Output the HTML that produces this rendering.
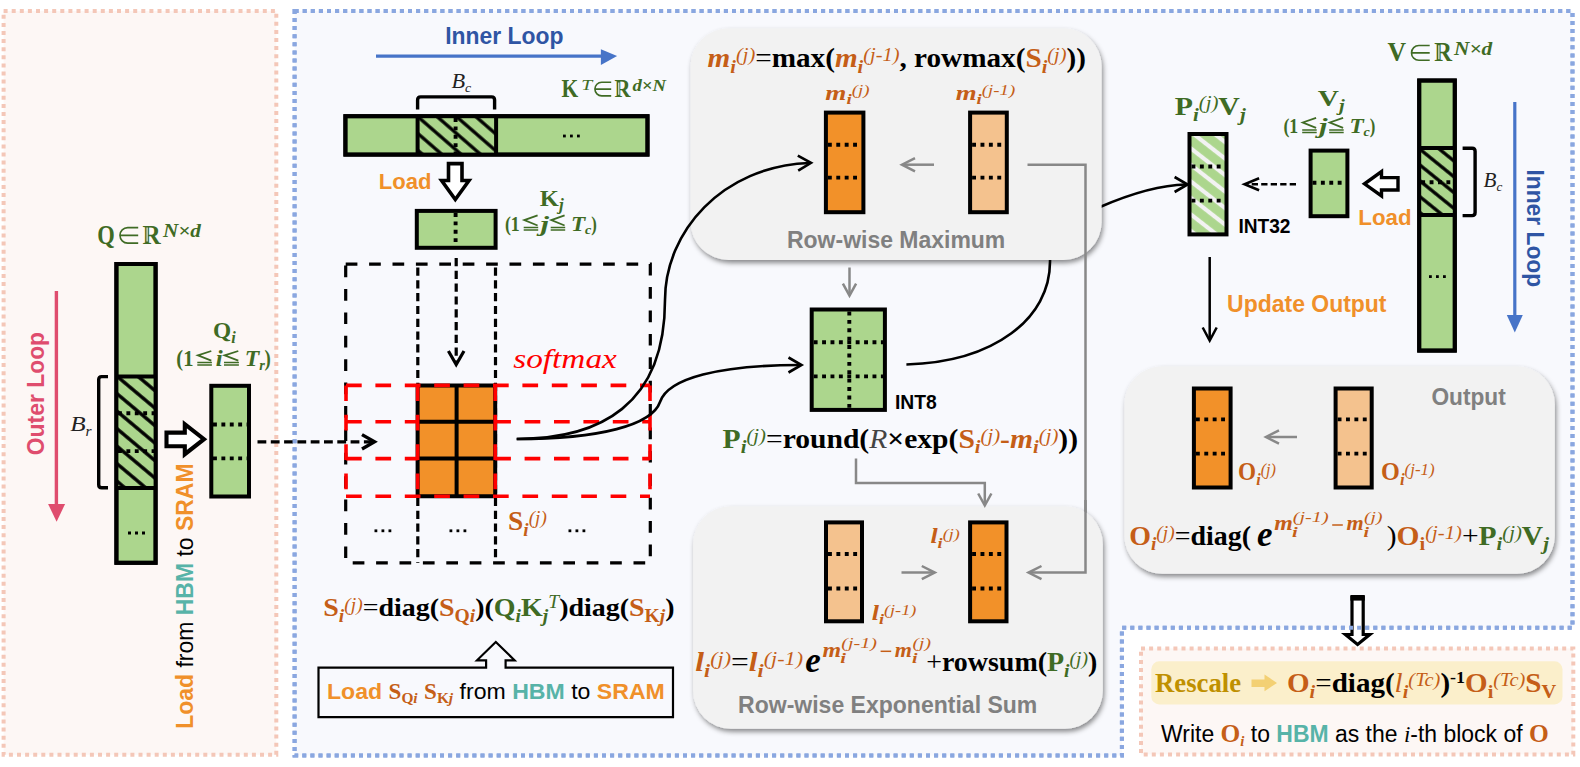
<!DOCTYPE html><html><head><meta charset="utf-8"><style>html,body{margin:0;padding:0;background:#fff;overflow:hidden}svg{display:block}.s{font-family:"Liberation Sans",sans-serif;font-weight:bold}.n{font-family:"Liberation Sans",sans-serif;font-weight:normal}.r{font-family:"Liberation Serif",serif}</style></head><body>
<svg width="1580" height="767" viewBox="0 0 1580 767">
<defs><filter id="sh" x="-5%" y="-5%" width="112%" height="115%"><feDropShadow dx="1.5" dy="3" stdDeviation="2.4" flood-color="#000" flood-opacity="0.45"/></filter></defs>
<rect width="1580" height="767" fill="#fff"/>
<rect x="3.6" y="11" width="272.7" height="743.7" fill="#FDF7F5" stroke="#F4C7B8" stroke-width="4" stroke-dasharray="4 4.1"/>
<path d="M294.6,11 H1572.5 V627.7 H1121.9 V755.5 H294.6 Z" fill="#F8F9FD" stroke="#8AA7E0" stroke-width="4" stroke-dasharray="4 4.1"/>
<rect x="1141" y="648.4" width="432.3" height="106" fill="#FDF7F5" stroke="#F4C7B8" stroke-width="4" stroke-dasharray="4 4.1"/>
<defs><pattern id="hq" patternUnits="userSpaceOnUse" width="40" height="13.4" patternTransform="translate(118.6,377.6) rotate(40)"><rect x="0" y="0" width="40" height="13.4" fill="#ACD68D"/><rect x="0" y="0" width="40" height="1.7" fill="#000"/><rect x="0" y="11.700000000000001" width="40" height="1.7" fill="#000"/></pattern></defs>
<rect x="116.4" y="264.0" width="39.2" height="298.8" fill="#ACD68D" stroke="#000" stroke-width="4" />
<rect x="116.4" y="376.4" width="39.2" height="111.6" fill="url(#hq)"/>
<rect x="116.4" y="264.0" width="39.2" height="298.8" fill="none" stroke="#000" stroke-width="4" />
<line x1="116.4" y1="376.4" x2="155.6" y2="376.4" stroke="#000" stroke-width="4" />
<line x1="116.4" y1="488.0" x2="155.6" y2="488.0" stroke="#000" stroke-width="4" />
<line x1="118.0" y1="413.3" x2="154.0" y2="413.3" stroke="#000" stroke-width="3.9" stroke-dasharray="3.9 4.5"/>
<line x1="118.0" y1="451.1" x2="154.0" y2="451.1" stroke="#000" stroke-width="3.9" stroke-dasharray="3.9 4.5"/>
<rect x="128.0" y="531.5" width="3" height="3" fill="#000"/>
<rect x="135.0" y="531.5" width="3" height="3" fill="#000"/>
<rect x="142.0" y="531.5" width="3" height="3" fill="#000"/>
<path d="M108,376.6 H101.7 Q98.7,376.6 98.7,379.6 V484.8 Q98.7,487.8 101.7,487.8 H108" fill="none" stroke="#000" stroke-width="3.4"/>
<text x="70.2" y="431.4" class="r" textLength="21.4" lengthAdjust="spacingAndGlyphs"><tspan y="431.4" font-size="22.0" fill="#222" font-weight="normal" font-style="italic">B</tspan><tspan y="435.8" font-size="13.6" fill="#222" font-weight="normal" font-style="italic">r</tspan></text>
<line x1="56.4" y1="291.0" x2="56.4" y2="506.0" stroke="#DF4D6E" stroke-width="3.4" />
<path d="M48.1,504 L65.1,504 L56.6,521.7 Z" fill="#DF4D6E"/>
<text transform="translate(43.7,455.2) rotate(-90)" class="s" font-size="24" fill="#DF4D6E" textLength="123.3" lengthAdjust="spacingAndGlyphs">Outer Loop</text>
<text x="97.2" y="243.5" class="r" font-size="27.5" fill="#3F6B24" textLength="17.5" lengthAdjust="spacingAndGlyphs" font-weight="bold">Q</text>
<path d="M138.2,227.6 H127.7 A7.7,7.7 0 0 0 127.7,243.1 H138.2 M120.0,235.4 H138.2" fill="none" stroke="#3F6B24" stroke-width="1.6"/>
<text x="142.4" y="243.5" class="r" font-size="27.3" fill="#3F6B24" textLength="18.2" lengthAdjust="spacingAndGlyphs" font-weight="bold">R</text>
<line x1="147.1" y1="227.6" x2="147.1" y2="241.5" stroke="#FDF7F5" stroke-width="1.1"/>
<text x="162.9" y="237.0" class="r" font-size="18.5" fill="#3F6B24" textLength="38.0" lengthAdjust="spacingAndGlyphs" font-weight="bold" font-style="italic">N×d</text>
<path d="M166.5,432.6 H184.8 V424.2 L204,439.2 L184.8,454.2 V446.2 H166.5 Z" fill="#fff" stroke="#000" stroke-width="4.1" stroke-linejoin="miter"/>
<rect x="211.3" y="385.8" width="37.7" height="110.7" fill="#ACD68D" stroke="#000" stroke-width="4" />
<line x1="213.0" y1="424.5" x2="247.5" y2="424.5" stroke="#000" stroke-width="3.9" stroke-dasharray="3.9 4.5"/>
<line x1="213.0" y1="458.4" x2="247.5" y2="458.4" stroke="#000" stroke-width="3.9" stroke-dasharray="3.9 4.5"/>
<text x="213.0" y="337.7" class="r" textLength="22.7" lengthAdjust="spacingAndGlyphs"><tspan y="337.7" font-size="24.0" fill="#3F6B24" font-weight="bold" font-style="normal">Q</tspan><tspan y="342.7" font-size="16.8" fill="#3F6B24" font-weight="bold" font-style="italic">i</tspan></text>
<text x="176.3" y="366.1" class="r" font-size="23" fill="#3F6B24" textLength="17.1" lengthAdjust="spacingAndGlyphs" font-weight="bold">(1</text>
<path d="M211.3,351.0 L197.9,355.4 L211.3,360.6" fill="none" stroke="#3F6B24" stroke-width="1.8" stroke-linejoin="miter"/>
<path d="M197.3,362.6 H211.9 M197.3,364.9 H211.9" fill="none" stroke="#3F6B24" stroke-width="1.5"/>
<text x="215.8" y="366.1" class="r" font-size="23" fill="#3F6B24" textLength="6.9" lengthAdjust="spacingAndGlyphs" font-weight="bold" font-style="italic">i</text>
<path d="M238.3,351.0 L224.6,355.4 L238.3,360.6" fill="none" stroke="#3F6B24" stroke-width="1.8" stroke-linejoin="miter"/>
<path d="M224.0,362.6 H238.9 M224.0,364.9 H238.9" fill="none" stroke="#3F6B24" stroke-width="1.5"/>
<text x="244.7" y="365.9" class="r" font-size="23" fill="#3F6B24" textLength="14.5" lengthAdjust="spacingAndGlyphs" font-weight="bold" font-style="italic">T</text>
<text x="259.2" y="369.7" class="r" font-size="14" fill="#3F6B24" textLength="5.6" lengthAdjust="spacingAndGlyphs" font-weight="bold" font-style="italic">r</text>
<text x="264.5" y="366.1" class="r" font-size="23" fill="#3F6B24" textLength="6.3" lengthAdjust="spacingAndGlyphs" font-weight="bold">)</text>
<line x1="257.5" y1="441.8" x2="372.0" y2="441.8" stroke="#000" stroke-width="3.3" stroke-dasharray="8.8 4.5"/>
<path d="M362.0,449.0 L374.5,441.8 L362.0,434.6" fill="none" stroke="#000" stroke-width="3.4" stroke-linejoin="miter"/>
<text transform="translate(193.2,728.8) rotate(-90)" class="s" font-size="24.5" textLength="265.4" lengthAdjust="spacingAndGlyphs"><tspan fill="#F0902A">Load</tspan><tspan font-weight="normal" fill="#000"> from </tspan><tspan fill="#57B3A8">HBM</tspan><tspan font-weight="normal" fill="#000"> to </tspan><tspan fill="#F0902A">SRAM</tspan></text>
<text x="445.2" y="43.9" class="s" font-size="24" fill="#2F55A4" textLength="118.3" lengthAdjust="spacingAndGlyphs" >Inner Loop</text>
<line x1="376.0" y1="56.1" x2="603.0" y2="56.1" stroke="#4774C8" stroke-width="3.2" />
<path d="M600.9,49.2 L617.1,56.1 L600.9,65 Z" fill="#4774C8"/>
<text x="451.4" y="87.5" class="r" textLength="19.7" lengthAdjust="spacingAndGlyphs"><tspan y="87.5" font-size="20.0" fill="#222" font-weight="normal" font-style="italic">B</tspan><tspan y="91.5" font-size="12.4" fill="#222" font-weight="normal" font-style="italic">c</tspan></text>
<path d="M417.6,109.5 V100 Q417.6,96.9 420.7,96.9 H491.5 Q494.6,96.9 494.6,100 V109.5" fill="none" stroke="#000" stroke-width="3.4"/>
<defs><pattern id="hk" patternUnits="userSpaceOnUse" width="40" height="12.7" patternTransform="translate(418.9,117.6) rotate(41)"><rect x="0" y="0" width="40" height="12.7" fill="#ACD68D"/><rect x="0" y="0" width="40" height="1.65" fill="#000"/><rect x="0" y="11.049999999999999" width="40" height="1.65" fill="#000"/></pattern></defs>
<rect x="345.4" y="116.2" width="302.1" height="38.4" fill="#ACD68D" stroke="#000" stroke-width="4" />
<rect x="417.6" y="116.2" width="78.5" height="38.4" fill="url(#hk)"/>
<rect x="345.4" y="116.2" width="302.1" height="38.4" fill="none" stroke="#000" stroke-width="4" />
<line x1="417.6" y1="116.2" x2="417.6" y2="154.6" stroke="#000" stroke-width="4" />
<line x1="496.1" y1="116.2" x2="496.1" y2="154.6" stroke="#000" stroke-width="4" />
<line x1="455.6" y1="118.0" x2="455.6" y2="153.0" stroke="#000" stroke-width="3.9" stroke-dasharray="3.9 4.5"/>
<rect x="563.0" y="134.6" width="2.8" height="2.8" fill="#000"/>
<rect x="570.0" y="134.6" width="2.8" height="2.8" fill="#000"/>
<rect x="577.0" y="134.6" width="2.8" height="2.8" fill="#000"/>
<text x="561.5" y="96.7" class="r" font-size="24.4" fill="#3F6B24" textLength="16.7" lengthAdjust="spacingAndGlyphs" font-weight="bold">K</text>
<text x="581.2" y="90.2" class="r" font-size="14.5" fill="#3F6B24" textLength="11.0" lengthAdjust="spacingAndGlyphs" font-style="italic">T</text>
<path d="M611.2,82.3 H601.7 A6.8,6.8 0 0 0 601.7,95.9 H611.2 M594.9,89.1 H611.2" fill="none" stroke="#3F6B24" stroke-width="1.6"/>
<text x="614.6" y="96.7" class="r" font-size="24.9" fill="#3F6B24" textLength="16.0" lengthAdjust="spacingAndGlyphs" font-weight="bold">R</text>
<line x1="618.8" y1="82.4" x2="618.8" y2="94.7" stroke="#F8F9FD" stroke-width="1.1"/>
<text x="632.4" y="90.6" class="r" font-size="16" fill="#3F6B24" textLength="33.5" lengthAdjust="spacingAndGlyphs" font-weight="bold" font-style="italic">d×N</text>
<text x="378.8" y="189.2" class="s" font-size="22.5" fill="#F0902A" textLength="52.7" lengthAdjust="spacingAndGlyphs" >Load</text>
<path d="M448.5,163.6 H462 V180.5 H469 L455.3,199.5 L441.6,180.5 H448.5 Z" fill="#fff" stroke="#000" stroke-width="3.6"/>
<rect x="416.8" y="210.9" width="78.8" height="36.9" fill="#ACD68D" stroke="#000" stroke-width="4" />
<line x1="455.6" y1="213.0" x2="455.6" y2="246.0" stroke="#000" stroke-width="3.9" stroke-dasharray="3.9 4.5"/>
<text x="539.8" y="205.6" class="r" textLength="23.9" lengthAdjust="spacingAndGlyphs"><tspan y="205.6" font-size="23.0" fill="#3F6B24" font-weight="bold" font-style="normal">K</tspan><tspan y="210.4" font-size="16.1" fill="#3F6B24" font-weight="bold" font-style="italic">j</tspan></text>
<text x="504.9" y="230.8" class="r" font-size="20" fill="#3F6B24" textLength="14.8" lengthAdjust="spacingAndGlyphs" font-weight="bold">(1</text>
<path d="M537.6,215.4 L524.3,220.1 L537.6,225.5" fill="none" stroke="#3F6B24" stroke-width="1.8" stroke-linejoin="miter"/>
<path d="M523.7,227.6 H538.2 M523.7,230.1 H538.2" fill="none" stroke="#3F6B24" stroke-width="1.5"/>
<text x="540.5" y="230.8" class="r" font-size="20" fill="#3F6B24" textLength="8.5" lengthAdjust="spacingAndGlyphs" font-weight="bold" font-style="italic">j</text>
<path d="M564.6,215.4 L551.3,220.1 L564.6,225.5" fill="none" stroke="#3F6B24" stroke-width="1.8" stroke-linejoin="miter"/>
<path d="M550.7,227.6 H565.2 M550.7,230.1 H565.2" fill="none" stroke="#3F6B24" stroke-width="1.5"/>
<text x="571.1" y="230.8" class="r" font-size="20" fill="#3F6B24" textLength="14.2" lengthAdjust="spacingAndGlyphs" font-weight="bold" font-style="italic">T</text>
<text x="584.9" y="234.0" class="r" font-size="12.5" fill="#3F6B24" textLength="6.3" lengthAdjust="spacingAndGlyphs" font-weight="bold" font-style="italic">c</text>
<text x="591.2" y="230.8" class="r" font-size="20" fill="#3F6B24" textLength="5.6" lengthAdjust="spacingAndGlyphs" font-weight="bold">)</text>
<rect x="345.7" y="264.1" width="304.6" height="298.7" fill="none" stroke="#000" stroke-width="3.2" stroke-dasharray="11.7 11.7"/>
<line x1="417.8" y1="267.5" x2="417.8" y2="562.8" stroke="#000" stroke-width="3.2" stroke-dasharray="8.2 4.6"/>
<line x1="495.5" y1="267.5" x2="495.5" y2="562.8" stroke="#000" stroke-width="3.2" stroke-dasharray="8.2 4.6"/>
<line x1="456.2" y1="258.0" x2="456.2" y2="362.0" stroke="#000" stroke-width="3.2" stroke-dasharray="8.2 4.6"/>
<path d="M448.4,351.0 L456.2,364.5 L464.0,351.0" fill="none" stroke="#000" stroke-width="3.2" stroke-linejoin="miter"/>
<rect x="417.6" y="385.4" width="77.6" height="110.9" fill="#F29129"/>
<line x1="417.6" y1="385.4" x2="495.2" y2="385.4" stroke="#000" stroke-width="4" />
<line x1="417.6" y1="421.8" x2="495.2" y2="421.8" stroke="#000" stroke-width="4" />
<line x1="417.6" y1="458.6" x2="495.2" y2="458.6" stroke="#000" stroke-width="4" />
<line x1="417.6" y1="496.3" x2="495.2" y2="496.3" stroke="#000" stroke-width="4" />
<line x1="417.6" y1="385.4" x2="417.6" y2="496.3" stroke="#000" stroke-width="4" />
<line x1="456.6" y1="385.4" x2="456.6" y2="496.3" stroke="#000" stroke-width="4" />
<line x1="495.2" y1="385.4" x2="495.2" y2="496.3" stroke="#000" stroke-width="4" />
<line x1="346.0" y1="385.4" x2="650.0" y2="385.4" stroke="#FF0000" stroke-width="3.6" stroke-dasharray="15.7 13.7"/>
<line x1="346.0" y1="496.3" x2="650.0" y2="496.3" stroke="#FF0000" stroke-width="3.6" stroke-dasharray="15.7 13.7"/>
<line x1="346.0" y1="421.8" x2="417.6" y2="421.8" stroke="#FF0000" stroke-width="3.6" stroke-dasharray="15.7 13.7"/>
<line x1="495.2" y1="421.8" x2="650.0" y2="421.8" stroke="#FF0000" stroke-width="3.6" stroke-dasharray="15.7 13.7"/>
<line x1="346.0" y1="458.6" x2="417.6" y2="458.6" stroke="#FF0000" stroke-width="3.6" stroke-dasharray="15.7 13.7"/>
<line x1="495.2" y1="458.6" x2="650.0" y2="458.6" stroke="#FF0000" stroke-width="3.6" stroke-dasharray="15.7 13.7"/>
<line x1="346.0" y1="385.4" x2="346.0" y2="496.3" stroke="#FF0000" stroke-width="3.6" stroke-dasharray="15.7 13.7"/>
<line x1="417.6" y1="385.4" x2="417.6" y2="496.3" stroke="#FF0000" stroke-width="3.6" stroke-dasharray="15.7 13.7"/>
<line x1="495.2" y1="385.4" x2="495.2" y2="496.3" stroke="#FF0000" stroke-width="3.6" stroke-dasharray="15.7 13.7"/>
<line x1="650.0" y1="385.4" x2="650.0" y2="496.3" stroke="#FF0000" stroke-width="3.6" stroke-dasharray="15.7 13.7"/>
<text x="513.2" y="368.0" class="r" font-size="27" fill="#FF0000" textLength="103.7" lengthAdjust="spacingAndGlyphs" font-style="italic">softmax</text>
<text x="508.1" y="530.3" class="r" textLength="38.7" lengthAdjust="spacingAndGlyphs"><tspan y="530.3" font-size="28.0" fill="#C55E17" font-weight="bold" font-style="normal">S</tspan><tspan y="536.2" font-size="19.6" fill="#C55E17" font-weight="bold" font-style="italic">i</tspan><tspan y="524.1" font-size="19.6" fill="#C55E17" font-weight="normal" font-style="italic">(j)</tspan></text>
<rect x="374.5" y="529.4" width="2.8" height="2.8" fill="#000"/>
<rect x="381.5" y="529.4" width="2.8" height="2.8" fill="#000"/>
<rect x="388.5" y="529.4" width="2.8" height="2.8" fill="#000"/>
<rect x="449.5" y="529.4" width="2.8" height="2.8" fill="#000"/>
<rect x="456.5" y="529.4" width="2.8" height="2.8" fill="#000"/>
<rect x="463.5" y="529.4" width="2.8" height="2.8" fill="#000"/>
<rect x="568.5" y="529.4" width="2.8" height="2.8" fill="#000"/>
<rect x="575.5" y="529.4" width="2.8" height="2.8" fill="#000"/>
<rect x="582.5" y="529.4" width="2.8" height="2.8" fill="#000"/>
<text x="323.2" y="616.3" class="r" textLength="351.4" lengthAdjust="spacingAndGlyphs"><tspan y="616.3" font-size="26.0" fill="#C55E17" font-weight="bold" font-style="normal">S</tspan><tspan y="621.8" font-size="18.2" fill="#C55E17" font-weight="bold" font-style="italic">i</tspan><tspan y="610.6" font-size="18.2" fill="#C55E17" font-weight="normal" font-style="italic">(j)</tspan><tspan y="616.3" font-size="26.0" fill="#000" font-weight="normal" font-style="normal">=</tspan><tspan y="616.3" font-size="26.0" fill="#000" font-weight="bold" font-style="normal">diag(</tspan><tspan y="616.3" font-size="26.0" fill="#C55E17" font-weight="bold" font-style="normal">S</tspan><tspan y="621.8" font-size="18.2" fill="#C55E17" font-weight="bold" font-style="normal">Q</tspan><tspan y="621.8" font-size="18.2" fill="#C55E17" font-weight="bold" font-style="italic">i</tspan><tspan y="616.3" font-size="26.0" fill="#000" font-weight="bold" font-style="normal">)(</tspan><tspan y="616.3" font-size="26.0" fill="#3F6B24" font-weight="bold" font-style="normal">Q</tspan><tspan y="621.8" font-size="18.2" fill="#3F6B24" font-weight="bold" font-style="italic">i</tspan><tspan y="616.3" font-size="26.0" fill="#3F6B24" font-weight="bold" font-style="normal">K</tspan><tspan y="621.8" font-size="18.2" fill="#3F6B24" font-weight="bold" font-style="italic">j</tspan><tspan y="608.2" font-size="18.2" fill="#3F6B24" font-weight="normal" font-style="italic">T</tspan><tspan y="616.3" font-size="26.0" fill="#000" font-weight="bold" font-style="normal">)diag(</tspan><tspan y="616.3" font-size="26.0" fill="#C55E17" font-weight="bold" font-style="normal">S</tspan><tspan y="621.8" font-size="18.2" fill="#C55E17" font-weight="bold" font-style="normal">K</tspan><tspan y="621.8" font-size="18.2" fill="#C55E17" font-weight="bold" font-style="italic">j</tspan><tspan y="616.3" font-size="26.0" fill="#000" font-weight="bold" font-style="normal">)</tspan></text>
<path d="M318.5,667.7 H486.1 V660.3 H477 L495.8,642 L514.6,660.3 H505.6 V667.7 H673 V717.2 H318.5 Z" fill="none" stroke="#000" stroke-width="2.2"/>
<text x="327" y="698.5" class="s" font-size="22.5" textLength="337.8" lengthAdjust="spacingAndGlyphs"><tspan fill="#F0902A">Load </tspan><tspan class="r" fill="#C55E17">S</tspan><tspan class="r" fill="#C55E17" font-size="15" y="703">Q<tspan font-style="italic">i</tspan></tspan><tspan y="698.5"> </tspan><tspan class="r" fill="#C55E17">S</tspan><tspan class="r" fill="#C55E17" font-size="15" y="703">K<tspan font-style="italic">j</tspan></tspan><tspan y="698.5" font-weight="normal" fill="#000"> from </tspan><tspan fill="#57B3A8">HBM</tspan><tspan font-weight="normal" fill="#000"> to </tspan><tspan fill="#F0902A">SRAM</tspan></text>
<path d="M516.7,439 C600,439 652,425 660,402 C668,378 720,365 800,365" fill="none" stroke="#000" stroke-width="2.6"/>
<path d="M788.5,372.5 L801.5,365.0 L788.5,357.5" fill="none" stroke="#000" stroke-width="2.6" stroke-linejoin="miter"/>
<path d="M906.4,364.5 C995,362 1050,318 1050,262 C1050,235 1065,222 1100,207 C1130,194 1160,185 1186,184.5" fill="none" stroke="#000" stroke-width="2.6"/>
<path d="M1174.6,192.0 L1187.6,184.5 L1174.6,177.0" fill="none" stroke="#000" stroke-width="2.6" stroke-linejoin="miter"/>
<rect x="690.6" y="28.3" width="411" height="231.7" rx="38" fill="#F2F2F2" filter="url(#sh)"/>
<path d="M516.7,439 C600,439 665,405 665,300 C665,232 722,166 809.5,163" fill="none" stroke="#000" stroke-width="2.6"/>
<path d="M798.2,170.7 L811.0,162.8 L797.8,155.7" fill="none" stroke="#000" stroke-width="2.6" stroke-linejoin="miter"/>
<rect x="825.9" y="112.6" width="37.5" height="99.6" fill="#F29129" stroke="#000" stroke-width="4" />
<line x1="827.9" y1="144.7" x2="861.4" y2="144.7" stroke="#000" stroke-width="3.9" stroke-dasharray="3.9 4.5"/>
<line x1="827.9" y1="177.6" x2="861.4" y2="177.6" stroke="#000" stroke-width="3.9" stroke-dasharray="3.9 4.5"/>
<rect x="970.1" y="112.6" width="36.7" height="99.6" fill="#F4C28E" stroke="#000" stroke-width="4" />
<line x1="972.1" y1="144.7" x2="1004.8" y2="144.7" stroke="#000" stroke-width="3.9" stroke-dasharray="3.9 4.5"/>
<line x1="972.1" y1="177.6" x2="1004.8" y2="177.6" stroke="#000" stroke-width="3.9" stroke-dasharray="3.9 4.5"/>
<line x1="934.0" y1="164.7" x2="903.0" y2="164.7" stroke="#888888" stroke-width="2.5" />
<path d="M915.0,158.1 L902.0,164.7 L915.0,171.3" fill="none" stroke="#888888" stroke-width="2.5" stroke-linejoin="miter"/>
<path d="M1027.5,164.7 H1085.5 V572.6 H1030" fill="none" stroke="#888888" stroke-width="2.5"/>
<text x="787.0" y="248.4" class="s" font-size="24" fill="#808080" textLength="218.3" lengthAdjust="spacingAndGlyphs" >Row-wise Maximum</text>
<text x="707.6" y="67.2" class="r" textLength="378.4" lengthAdjust="spacingAndGlyphs"><tspan y="67.2" font-size="26.5" fill="#C55E17" font-weight="bold" font-style="italic">m</tspan><tspan y="72.8" font-size="18.5" fill="#C55E17" font-weight="bold" font-style="italic">i</tspan><tspan y="61.4" font-size="18.5" fill="#C55E17" font-weight="normal" font-style="italic">(j)</tspan><tspan y="67.2" font-size="26.5" fill="#000" font-weight="normal" font-style="normal">=</tspan><tspan y="67.2" font-size="26.5" fill="#000" font-weight="bold" font-style="normal">max(</tspan><tspan y="67.2" font-size="26.5" fill="#C55E17" font-weight="bold" font-style="italic">m</tspan><tspan y="72.8" font-size="18.5" fill="#C55E17" font-weight="bold" font-style="italic">i</tspan><tspan y="61.4" font-size="18.5" fill="#C55E17" font-weight="normal" font-style="italic">(j-1)</tspan><tspan y="67.2" font-size="26.5" fill="#000" font-weight="bold" font-style="normal">, rowmax(</tspan><tspan y="67.2" font-size="26.5" fill="#C55E17" font-weight="bold" font-style="normal">S</tspan><tspan y="72.8" font-size="18.5" fill="#C55E17" font-weight="bold" font-style="italic">i</tspan><tspan y="61.4" font-size="18.5" fill="#C55E17" font-weight="normal" font-style="italic">(j)</tspan><tspan y="67.2" font-size="26.5" fill="#000" font-weight="bold" font-style="normal">))</tspan></text>
<text x="825.3" y="99.5" class="r" textLength="44.3" lengthAdjust="spacingAndGlyphs"><tspan y="99.5" font-size="21.5" fill="#C55E17" font-weight="bold" font-style="italic">m</tspan><tspan y="104.0" font-size="15.0" fill="#C55E17" font-weight="bold" font-style="italic">i</tspan><tspan y="94.8" font-size="15.0" fill="#C55E17" font-weight="normal" font-style="italic">(j)</tspan></text>
<text x="955.7" y="99.5" class="r" textLength="59.5" lengthAdjust="spacingAndGlyphs"><tspan y="99.5" font-size="21.5" fill="#C55E17" font-weight="bold" font-style="italic">m</tspan><tspan y="104.0" font-size="15.0" fill="#C55E17" font-weight="bold" font-style="italic">i</tspan><tspan y="94.8" font-size="15.0" fill="#C55E17" font-weight="normal" font-style="italic">(j-1)</tspan></text>
<line x1="849.5" y1="267.5" x2="849.5" y2="294.5" stroke="#888888" stroke-width="2.5" />
<path d="M842.9,283.6 L849.5,295.6 L856.1,283.6" fill="none" stroke="#888888" stroke-width="2.5" stroke-linejoin="miter"/>
<rect x="811.7" y="309.5" width="73.2" height="100.4" fill="#ACD68D" stroke="#000" stroke-width="4" />
<line x1="849.3" y1="311.5" x2="849.3" y2="408.0" stroke="#000" stroke-width="3.9" stroke-dasharray="3.9 4.5"/>
<line x1="813.7" y1="342.3" x2="883.0" y2="342.3" stroke="#000" stroke-width="3.9" stroke-dasharray="3.9 4.5"/>
<line x1="813.7" y1="376.4" x2="883.0" y2="376.4" stroke="#000" stroke-width="3.9" stroke-dasharray="3.9 4.5"/>
<text x="895.0" y="409.0" class="s" font-size="20" fill="#000" textLength="41.8" lengthAdjust="spacingAndGlyphs" >INT8</text>
<text x="722.6" y="447.5" class="r" textLength="355.4" lengthAdjust="spacingAndGlyphs"><tspan y="447.5" font-size="27.0" fill="#3F6B24" font-weight="bold" font-style="normal">P</tspan><tspan y="453.2" font-size="18.9" fill="#3F6B24" font-weight="bold" font-style="italic">i</tspan><tspan y="441.6" font-size="18.9" fill="#3F6B24" font-weight="normal" font-style="italic">(j)</tspan><tspan y="447.5" font-size="27.0" fill="#000" font-weight="normal" font-style="normal">=</tspan><tspan y="447.5" font-size="27.0" fill="#000" font-weight="bold" font-style="normal">round(</tspan><tspan y="447.5" font-size="27.0" fill="#444" font-weight="normal" font-style="italic">R</tspan><tspan y="447.5" font-size="27.0" fill="#000" font-weight="bold" font-style="normal">×</tspan><tspan y="447.5" font-size="27.0" fill="#000" font-weight="bold" font-style="normal">exp(</tspan><tspan y="447.5" font-size="27.0" fill="#C55E17" font-weight="bold" font-style="normal">S</tspan><tspan y="453.2" font-size="18.9" fill="#C55E17" font-weight="bold" font-style="italic">i</tspan><tspan y="441.6" font-size="18.9" fill="#C55E17" font-weight="normal" font-style="italic">(j)</tspan><tspan y="447.5" font-size="27.0" fill="#C55E17" font-weight="bold" font-style="normal">-</tspan><tspan y="447.5" font-size="27.0" fill="#C55E17" font-weight="bold" font-style="italic">m</tspan><tspan y="453.2" font-size="18.9" fill="#C55E17" font-weight="bold" font-style="italic">i</tspan><tspan y="441.6" font-size="18.9" fill="#C55E17" font-weight="normal" font-style="italic">(j)</tspan><tspan y="447.5" font-size="27.0" fill="#000" font-weight="bold" font-style="normal">))</tspan></text>
<path d="M856,458.6 V483 H984.8 V504" fill="none" stroke="#888888" stroke-width="2.5"/>
<rect x="693.1" y="506.2" width="409.7" height="222.6" rx="38" fill="#F2F2F2" filter="url(#sh)"/>
<path d="M978.2,493.5 L984.8,505.5 L991.4,493.5" fill="none" stroke="#888888" stroke-width="2.5" stroke-linejoin="miter"/>
<path d="M1085.5,500 V572.6 H1030" fill="none" stroke="#888888" stroke-width="2.5"/>
<path d="M1041.5,566.0 L1028.5,572.6 L1041.5,579.2" fill="none" stroke="#888888" stroke-width="2.5" stroke-linejoin="miter"/>
<rect x="826.0" y="522.4" width="36.0" height="98.9" fill="#F4C28E" stroke="#000" stroke-width="4" />
<line x1="828.0" y1="554.0" x2="860.0" y2="554.0" stroke="#000" stroke-width="3.9" stroke-dasharray="3.9 4.5"/>
<line x1="828.0" y1="588.5" x2="860.0" y2="588.5" stroke="#000" stroke-width="3.9" stroke-dasharray="3.9 4.5"/>
<rect x="970.1" y="522.4" width="36.4" height="98.9" fill="#F29129" stroke="#000" stroke-width="4" />
<line x1="972.1" y1="554.0" x2="1004.5" y2="554.0" stroke="#000" stroke-width="3.9" stroke-dasharray="3.9 4.5"/>
<line x1="972.1" y1="588.5" x2="1004.5" y2="588.5" stroke="#000" stroke-width="3.9" stroke-dasharray="3.9 4.5"/>
<line x1="901.5" y1="572.6" x2="933.8" y2="572.6" stroke="#888888" stroke-width="2.5" />
<path d="M921.8,579.2 L934.8,572.6 L921.8,566.0" fill="none" stroke="#888888" stroke-width="2.5" stroke-linejoin="miter"/>
<text x="930.4" y="543.2" class="r" textLength="29.4" lengthAdjust="spacingAndGlyphs"><tspan y="543.2" font-size="21.0" fill="#C55E17" font-weight="bold" font-style="italic">l</tspan><tspan y="547.6" font-size="14.7" fill="#C55E17" font-weight="bold" font-style="italic">i</tspan><tspan y="538.6" font-size="14.7" fill="#C55E17" font-weight="normal" font-style="italic">(j)</tspan></text>
<text x="871.7" y="619.8" class="r" textLength="44.6" lengthAdjust="spacingAndGlyphs"><tspan y="619.8" font-size="21.0" fill="#C55E17" font-weight="bold" font-style="italic">l</tspan><tspan y="624.2" font-size="14.7" fill="#C55E17" font-weight="bold" font-style="italic">i</tspan><tspan y="615.2" font-size="14.7" fill="#C55E17" font-weight="normal" font-style="italic">(j-1)</tspan></text>
<text x="695.3" y="670.9" class="r" textLength="107.7" lengthAdjust="spacingAndGlyphs"><tspan y="670.9" font-size="27.0" fill="#C55E17" font-weight="bold" font-style="italic">l</tspan><tspan y="676.6" font-size="18.9" fill="#C55E17" font-weight="bold" font-style="italic">i</tspan><tspan y="665.0" font-size="18.9" fill="#C55E17" font-weight="normal" font-style="italic">(j)</tspan><tspan y="670.9" font-size="27.0" fill="#000" font-weight="normal" font-style="normal">=</tspan><tspan y="670.9" font-size="27.0" fill="#C55E17" font-weight="bold" font-style="italic">l</tspan><tspan y="676.6" font-size="18.9" fill="#C55E17" font-weight="bold" font-style="italic">i</tspan><tspan y="665.0" font-size="18.9" fill="#C55E17" font-weight="normal" font-style="italic">(j-1)</tspan></text>
<text x="805.3" y="672.0" class="r" font-size="35" fill="#000" textLength="15.5" lengthAdjust="spacingAndGlyphs" font-style="italic" font-weight="bold">e</text>
<text x="822.6" y="656.6" class="r" font-size="21.5" fill="#C55E17" textLength="18.6" lengthAdjust="spacingAndGlyphs" font-style="italic" font-weight="bold">m</text>
<text x="840.3" y="662.8" class="r" font-size="15" fill="#C55E17" textLength="5.7" lengthAdjust="spacingAndGlyphs" font-style="italic" font-weight="bold">i</text>
<text x="841.2" y="648.2" class="r" font-size="14.5" fill="#C55E17" textLength="35.8" lengthAdjust="spacingAndGlyphs" font-style="italic">(j-1)</text>
<line x1="880.6" y1="651.3" x2="891.2" y2="651.3" stroke="#C55E17" stroke-width="1.5" />
<text x="894.8" y="656.6" class="r" font-size="21.5" fill="#C55E17" textLength="17.2" lengthAdjust="spacingAndGlyphs" font-style="italic" font-weight="bold">m</text>
<text x="912.0" y="662.8" class="r" font-size="15" fill="#C55E17" textLength="5.5" lengthAdjust="spacingAndGlyphs" font-style="italic" font-weight="bold">i</text>
<text x="912.5" y="648.2" class="r" font-size="14.5" fill="#C55E17" textLength="18.5" lengthAdjust="spacingAndGlyphs" font-style="italic">(j)</text>
<text x="926.2" y="670.9" class="r" textLength="171.1" lengthAdjust="spacingAndGlyphs"><tspan y="670.9" font-size="27.0" fill="#000" font-weight="normal" font-style="normal">+</tspan><tspan y="670.9" font-size="27.0" fill="#000" font-weight="bold" font-style="normal">rowsum(</tspan><tspan y="670.9" font-size="27.0" fill="#3F6B24" font-weight="bold" font-style="normal">P</tspan><tspan y="676.6" font-size="18.9" fill="#3F6B24" font-weight="bold" font-style="italic">i</tspan><tspan y="665.0" font-size="18.9" fill="#3F6B24" font-weight="normal" font-style="italic">(j)</tspan><tspan y="670.9" font-size="27.0" fill="#000" font-weight="bold" font-style="normal">)</tspan></text>
<text x="738.1" y="712.9" class="s" font-size="23.6" fill="#808080" textLength="299.2" lengthAdjust="spacingAndGlyphs" >Row-wise Exponential Sum</text>
<text x="1387.6" y="61.3" class="r" font-size="27.5" fill="#3F6B24" textLength="18.6" lengthAdjust="spacingAndGlyphs" font-weight="bold">V</text>
<path d="M1429.7,45.5 H1418.9 A7.4,7.4 0 0 0 1418.9,60.3 H1429.7 M1411.5,52.9 H1429.7" fill="none" stroke="#3F6B24" stroke-width="1.6"/>
<text x="1434.3" y="61.2" class="r" font-size="27.5" fill="#3F6B24" textLength="17.8" lengthAdjust="spacingAndGlyphs" font-weight="bold">R</text>
<line x1="1438.9" y1="45.2" x2="1438.9" y2="59.2" stroke="#F8F9FD" stroke-width="1.1"/>
<text x="1454.0" y="54.6" class="r" font-size="18.2" fill="#3F6B24" textLength="38.3" lengthAdjust="spacingAndGlyphs" font-weight="bold" font-style="italic">N×d</text>
<defs><pattern id="hv" patternUnits="userSpaceOnUse" width="40" height="12.3" patternTransform="translate(1420.4,149.6) rotate(39)"><rect x="0" y="0" width="40" height="12.3" fill="#ACD68D"/><rect x="0" y="0" width="40" height="1.65" fill="#000"/><rect x="0" y="10.65" width="40" height="1.65" fill="#000"/></pattern></defs>
<rect x="1419.2" y="80.5" width="35.6" height="270.1" fill="#ACD68D" stroke="#000" stroke-width="4" />
<rect x="1419.2" y="147.9" width="35.6" height="67.2" fill="url(#hv)"/>
<rect x="1419.2" y="80.5" width="35.6" height="270.1" fill="none" stroke="#000" stroke-width="4" />
<line x1="1419.2" y1="147.9" x2="1454.8" y2="147.9" stroke="#000" stroke-width="4" />
<line x1="1419.2" y1="215.1" x2="1454.8" y2="215.1" stroke="#000" stroke-width="4" />
<line x1="1421.2" y1="182.3" x2="1453.0" y2="182.3" stroke="#000" stroke-width="3.9" stroke-dasharray="3.9 4.5"/>
<rect x="1429.0" y="275.2" width="2.8" height="2.8" fill="#000"/>
<rect x="1436.0" y="275.2" width="2.8" height="2.8" fill="#000"/>
<rect x="1443.0" y="275.2" width="2.8" height="2.8" fill="#000"/>
<path d="M1462.6,148.2 H1472.1 Q1475.1,148.2 1475.1,151.2 V212.6 Q1475.1,215.6 1472.1,215.6 H1462.6" fill="none" stroke="#000" stroke-width="3.4"/>
<text x="1483.5" y="186.9" class="r" textLength="18.7" lengthAdjust="spacingAndGlyphs"><tspan y="186.9" font-size="20.0" fill="#222" font-weight="normal" font-style="italic">B</tspan><tspan y="190.9" font-size="12.4" fill="#222" font-weight="normal" font-style="italic">c</tspan></text>
<text transform="translate(1527,169.4) rotate(90)" class="s" font-size="24" fill="#2F55A4" textLength="117.8" lengthAdjust="spacingAndGlyphs">Inner Loop</text>
<line x1="1514.8" y1="102.0" x2="1514.8" y2="316.0" stroke="#4774C8" stroke-width="3.2" />
<path d="M1506.8,315 L1522.8,315 L1514.8,332.6 Z" fill="#4774C8"/>
<rect x="1310.6" y="150.6" width="36.8" height="65.6" fill="#ACD68D" stroke="#000" stroke-width="4" />
<line x1="1312.5" y1="182.7" x2="1345.5" y2="182.7" stroke="#000" stroke-width="3.9" stroke-dasharray="3.9 4.5"/>
<text x="1317.8" y="106.4" class="r" textLength="26.9" lengthAdjust="spacingAndGlyphs"><tspan y="106.4" font-size="24.0" fill="#3F6B24" font-weight="bold" font-style="normal">V</tspan><tspan y="111.4" font-size="16.8" fill="#3F6B24" font-weight="bold" font-style="italic">j</tspan></text>
<text x="1283.4" y="133.2" class="r" font-size="20" fill="#3F6B24" textLength="14.8" lengthAdjust="spacingAndGlyphs" font-weight="bold">(1</text>
<path d="M1316.1,117.8 L1302.8,122.5 L1316.1,127.9" fill="none" stroke="#3F6B24" stroke-width="1.8" stroke-linejoin="miter"/>
<path d="M1302.2,130.0 H1316.7 M1302.2,132.5 H1316.7" fill="none" stroke="#3F6B24" stroke-width="1.5"/>
<text x="1319.0" y="133.2" class="r" font-size="20" fill="#3F6B24" textLength="8.5" lengthAdjust="spacingAndGlyphs" font-weight="bold" font-style="italic">j</text>
<path d="M1343.1,117.8 L1329.8,122.5 L1343.1,127.9" fill="none" stroke="#3F6B24" stroke-width="1.8" stroke-linejoin="miter"/>
<path d="M1329.2,130.0 H1343.7 M1329.2,132.5 H1343.7" fill="none" stroke="#3F6B24" stroke-width="1.5"/>
<text x="1349.6" y="133.2" class="r" font-size="20" fill="#3F6B24" textLength="14.2" lengthAdjust="spacingAndGlyphs" font-weight="bold" font-style="italic">T</text>
<text x="1363.4" y="136.4" class="r" font-size="12.5" fill="#3F6B24" textLength="6.3" lengthAdjust="spacingAndGlyphs" font-weight="bold" font-style="italic">c</text>
<text x="1369.7" y="133.2" class="r" font-size="20" fill="#3F6B24" textLength="5.6" lengthAdjust="spacingAndGlyphs" font-weight="bold">)</text>
<path d="M1398,177.6 H1381.5 V171.5 L1364.5,183.8 L1381.5,196 V190 H1398 Z" fill="#fff" stroke="#000" stroke-width="3.4"/>
<text x="1358.3" y="224.5" class="s" font-size="22.5" fill="#F0902A" textLength="53.2" lengthAdjust="spacingAndGlyphs" >Load</text>
<line x1="1296.0" y1="184.2" x2="1248.0" y2="184.2" stroke="#000" stroke-width="2.6" stroke-dasharray="6.3 3.2"/>
<path d="M1259.1,178.2 L1244.6,184.2 L1259.1,190.2" fill="none" stroke="#000" stroke-width="2.6" stroke-linejoin="miter"/>
<defs><pattern id="hw" patternUnits="userSpaceOnUse" width="40" height="13.0" patternTransform="translate(1191,148.5) rotate(38)"><rect x="0" y="0" width="40" height="13.0" fill="#ACD68D"/><rect x="0" y="0" width="40" height="2.1" fill="#F2F2F2"/><rect x="0" y="10.9" width="40" height="2.1" fill="#F2F2F2"/></pattern></defs>
<rect x="1189.5" y="134.0" width="37.0" height="100.4" fill="url(#hw)" stroke="#000" stroke-width="4" />
<line x1="1191.5" y1="166.5" x2="1224.5" y2="166.5" stroke="#000" stroke-width="3.9" stroke-dasharray="3.9 4.5"/>
<line x1="1191.5" y1="200.6" x2="1224.5" y2="200.6" stroke="#000" stroke-width="3.9" stroke-dasharray="3.9 4.5"/>
<text x="1238.4" y="233.3" class="s" font-size="19.5" fill="#000" textLength="52.1" lengthAdjust="spacingAndGlyphs" >INT32</text>
<text x="1174.7" y="115.0" class="r" textLength="71.0" lengthAdjust="spacingAndGlyphs"><tspan y="115.0" font-size="26.0" fill="#3F6B24" font-weight="bold" font-style="normal">P</tspan><tspan y="120.5" font-size="18.2" fill="#3F6B24" font-weight="bold" font-style="italic">i</tspan><tspan y="109.3" font-size="18.2" fill="#3F6B24" font-weight="normal" font-style="italic">(j)</tspan><tspan y="115.0" font-size="26.0" fill="#3F6B24" font-weight="bold" font-style="normal">V</tspan><tspan y="120.5" font-size="18.2" fill="#3F6B24" font-weight="bold" font-style="italic">j</tspan></text>
<line x1="1209.7" y1="257.0" x2="1209.7" y2="339.0" stroke="#000" stroke-width="2.5" />
<path d="M1202.7,327.5 L1209.7,340.5 L1216.7,327.5" fill="none" stroke="#000" stroke-width="2.5" stroke-linejoin="miter"/>
<text x="1227.1" y="311.8" class="s" font-size="24.3" fill="#F0902A" textLength="159.4" lengthAdjust="spacingAndGlyphs" >Update Output</text>
<rect x="1124.4" y="366.3" width="430.4" height="207.5" rx="38" fill="#F2F2F2" filter="url(#sh)"/>
<rect x="1193.9" y="388.5" width="36.7" height="99.0" fill="#F29129" stroke="#000" stroke-width="4" />
<line x1="1195.9" y1="419.4" x2="1228.6" y2="419.4" stroke="#000" stroke-width="3.9" stroke-dasharray="3.9 4.5"/>
<line x1="1195.9" y1="453.6" x2="1228.6" y2="453.6" stroke="#000" stroke-width="3.9" stroke-dasharray="3.9 4.5"/>
<rect x="1335.6" y="388.5" width="36.1" height="99.0" fill="#F4C28E" stroke="#000" stroke-width="4" />
<line x1="1337.6" y1="419.4" x2="1369.7" y2="419.4" stroke="#000" stroke-width="3.9" stroke-dasharray="3.9 4.5"/>
<line x1="1337.6" y1="453.6" x2="1369.7" y2="453.6" stroke="#000" stroke-width="3.9" stroke-dasharray="3.9 4.5"/>
<line x1="1297.0" y1="437.0" x2="1267.0" y2="437.0" stroke="#888888" stroke-width="2.5" />
<path d="M1279.0,430.4 L1266.0,437.0 L1279.0,443.6" fill="none" stroke="#888888" stroke-width="2.5" stroke-linejoin="miter"/>
<text x="1431.4" y="405.3" class="s" font-size="23" fill="#808080" textLength="74.3" lengthAdjust="spacingAndGlyphs" >Output</text>
<text x="1238.1" y="480.0" class="r" textLength="37.9" lengthAdjust="spacingAndGlyphs"><tspan y="480.0" font-size="25.0" fill="#C55E17" font-weight="bold" font-style="normal">O</tspan><tspan y="485.2" font-size="17.5" fill="#C55E17" font-weight="bold" font-style="italic">i</tspan><tspan y="474.5" font-size="17.5" fill="#C55E17" font-weight="normal" font-style="italic">(j)</tspan></text>
<text x="1381.1" y="480.0" class="r" textLength="53.6" lengthAdjust="spacingAndGlyphs"><tspan y="480.0" font-size="25.0" fill="#C55E17" font-weight="bold" font-style="normal">O</tspan><tspan y="485.2" font-size="17.5" fill="#C55E17" font-weight="bold" font-style="italic">i</tspan><tspan y="474.5" font-size="17.5" fill="#C55E17" font-weight="normal" font-style="italic">(j-1)</tspan></text>
<text x="1129.2" y="544.6" class="r" textLength="121.8" lengthAdjust="spacingAndGlyphs"><tspan y="544.6" font-size="27.0" fill="#C55E17" font-weight="bold" font-style="normal">O</tspan><tspan y="550.3" font-size="18.9" fill="#C55E17" font-weight="bold" font-style="italic">i</tspan><tspan y="538.7" font-size="18.9" fill="#C55E17" font-weight="normal" font-style="italic">(j)</tspan><tspan y="544.6" font-size="27.0" fill="#000" font-weight="normal" font-style="normal">=</tspan><tspan y="544.6" font-size="27.0" fill="#000" font-weight="bold" font-style="normal">diag(</tspan></text>
<text x="1256.9" y="545.7" class="r" font-size="35" fill="#000" textLength="15.5" lengthAdjust="spacingAndGlyphs" font-style="italic" font-weight="bold">e</text>
<text x="1274.2" y="530.3" class="r" font-size="21.5" fill="#C55E17" textLength="18.6" lengthAdjust="spacingAndGlyphs" font-style="italic" font-weight="bold">m</text>
<text x="1291.9" y="536.5" class="r" font-size="15" fill="#C55E17" textLength="5.7" lengthAdjust="spacingAndGlyphs" font-style="italic" font-weight="bold">i</text>
<text x="1292.8" y="521.9" class="r" font-size="14.5" fill="#C55E17" textLength="35.8" lengthAdjust="spacingAndGlyphs" font-style="italic">(j-1)</text>
<line x1="1332.2" y1="525.0" x2="1342.8" y2="525.0" stroke="#C55E17" stroke-width="1.5" />
<text x="1346.4" y="530.3" class="r" font-size="21.5" fill="#C55E17" textLength="17.2" lengthAdjust="spacingAndGlyphs" font-style="italic" font-weight="bold">m</text>
<text x="1363.6" y="536.5" class="r" font-size="15" fill="#C55E17" textLength="5.5" lengthAdjust="spacingAndGlyphs" font-style="italic" font-weight="bold">i</text>
<text x="1364.1" y="521.9" class="r" font-size="14.5" fill="#C55E17" textLength="18.5" lengthAdjust="spacingAndGlyphs" font-style="italic">(j)</text>
<text x="1386.7" y="544.6" class="r" textLength="162.2" lengthAdjust="spacingAndGlyphs"><tspan y="544.6" font-size="27.0" fill="#000" font-weight="normal" font-style="normal">)</tspan><tspan y="544.6" font-size="27.0" fill="#C55E17" font-weight="bold" font-style="normal">O</tspan><tspan y="550.3" font-size="18.9" fill="#C55E17" font-weight="bold" font-style="normal">i</tspan><tspan y="538.7" font-size="18.9" fill="#C55E17" font-weight="normal" font-style="italic">(j-1)</tspan><tspan y="544.6" font-size="27.0" fill="#000" font-weight="normal" font-style="normal">+</tspan><tspan y="544.6" font-size="27.0" fill="#3F6B24" font-weight="bold" font-style="normal">P</tspan><tspan y="550.3" font-size="18.9" fill="#3F6B24" font-weight="bold" font-style="italic">i</tspan><tspan y="538.7" font-size="18.9" fill="#3F6B24" font-weight="normal" font-style="italic">(j)</tspan><tspan y="544.6" font-size="27.0" fill="#3F6B24" font-weight="bold" font-style="normal">V</tspan><tspan y="550.3" font-size="18.9" fill="#3F6B24" font-weight="bold" font-style="italic">j</tspan></text>
<path d="M1352,597.5 H1363.2 V634.5 H1369.8 L1357.6,644.5 L1345.4,634.5 H1352 Z" fill="#fff" stroke="#000" stroke-width="3.2"/>
<line x1="1350.4" y1="597.8" x2="1364.8" y2="597.8" stroke="#000" stroke-width="5.6" />
<path d="M294.6,11 H1572.5 V627.7 H1121.9 V755.5 H294.6 Z" fill="none" stroke="#8AA7E0" stroke-width="4" stroke-dasharray="4 4.1"/>
<rect x="1151.3" y="661.3" width="411.2" height="43.1" rx="8" fill="#FBEFCB"/>
<text x="1155.0" y="691.9" class="r" font-size="27.5" fill="#BF9000" textLength="86.1" lengthAdjust="spacingAndGlyphs" font-weight="bold">Rescale</text>
<path d="M1251.5,679.4 H1264.5 V674.5 L1277,683 L1264.5,691.2 V687 H1251.5 Z" fill="#F3D074"/>
<text x="1287.0" y="692.3" class="r" textLength="269.2" lengthAdjust="spacingAndGlyphs"><tspan y="692.3" font-size="27.0" fill="#C55E17" font-weight="bold" font-style="normal">O</tspan><tspan y="698.0" font-size="18.9" fill="#C55E17" font-weight="bold" font-style="italic">i</tspan><tspan y="692.3" font-size="27.0" fill="#000" font-weight="normal" font-style="normal">=</tspan><tspan y="692.3" font-size="27.0" fill="#000" font-weight="bold" font-style="normal">diag(</tspan><tspan y="692.3" font-size="27.0" fill="#C55E17" font-weight="normal" font-style="italic">l</tspan><tspan y="698.0" font-size="18.9" fill="#C55E17" font-weight="bold" font-style="italic">i</tspan><tspan y="686.4" font-size="18.9" fill="#C55E17" font-weight="normal" font-style="italic">(Tc)</tspan><tspan y="692.3" font-size="27.0" fill="#000" font-weight="bold" font-style="normal">)</tspan><tspan y="682.6" font-size="16.7" fill="#000" font-weight="bold" font-style="normal">-1</tspan><tspan y="692.3" font-size="27.0" fill="#C55E17" font-weight="bold" font-style="normal">O</tspan><tspan y="698.0" font-size="18.9" fill="#C55E17" font-weight="bold" font-style="normal">i</tspan><tspan y="686.4" font-size="18.9" fill="#C55E17" font-weight="normal" font-style="italic">(Tc)</tspan><tspan y="692.3" font-size="27.0" fill="#C55E17" font-weight="bold" font-style="normal">S</tspan><tspan y="698.0" font-size="18.9" fill="#C55E17" font-weight="bold" font-style="normal">V</tspan></text>
<text x="1161.1" y="741.5" class="n" font-size="23.5" fill="#000" textLength="387.6" lengthAdjust="spacingAndGlyphs">Write <tspan class="r" font-weight="bold" font-size="26" fill="#C55E17">O</tspan><tspan class="r" font-weight="bold" font-style="italic" font-size="15" fill="#C55E17" y="746">i</tspan><tspan y="741.5"> to </tspan><tspan class="s" fill="#57B3A8">HBM</tspan><tspan> as the </tspan><tspan class="r" font-style="italic">i</tspan><tspan>-th block of </tspan><tspan class="r" font-weight="bold" font-size="26" fill="#C55E17">O</tspan></text>
</svg></body></html>
